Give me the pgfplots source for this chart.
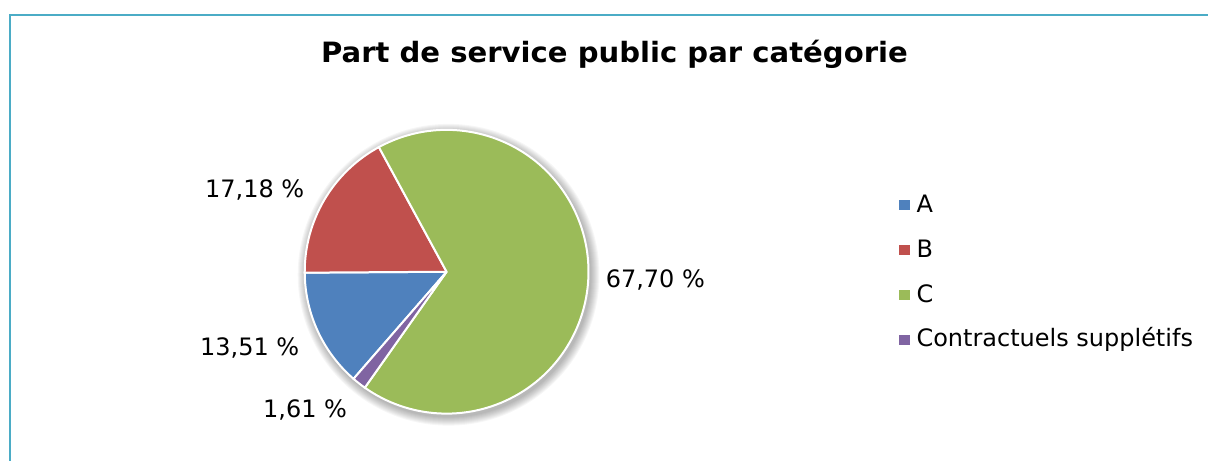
\documentclass[border=0pt]{standalone}
\usepackage{pgfplots}
\pgfplotsset{compat=1.18}
\usepackage{fontspec}
\setmainfont{DejaVu Sans}
\newfontfamily\titlefont[FakeStretch=1.04]{DejaVu Sans}
\definecolor{cA}{HTML}{4F81BD}
\definecolor{cB}{HTML}{C0504D}
\definecolor{cC}{HTML}{9BBB59}
\definecolor{cD}{HTML}{8064A2}
\definecolor{frameblue}{HTML}{4BACC6}
\begin{document}
\begin{tikzpicture}
% shares in percent: A, B, C, Contractuels supplétifs
\def\vA{13.51}\def\vB{17.18}\def\vC{67.70}\def\vD{1.61}
\def\first{-131}% angle where slice A starts, slices go clockwise
\pgfmathsetmacro\eA{\first-3.6*\vA}
\pgfmathsetmacro\eB{\eA-3.6*\vB}
\pgfmathsetmacro\eC{\eB-3.6*\vC}
\pgfmathsetmacro\eD{\eC-3.6*\vD}
\def\R{71pt}
\begin{axis}[
x=0.5pt, y=0.5pt,
xmin=0, xmax=1209, ymin=0, ymax=461,
hide axis, clip=false,
]
\path (axis cs:0,0) rectangle (axis cs:1209,461);
\draw[frameblue, line width=1.1pt] (axis cs:10,0) -- (axis cs:10,446) -- (axis cs:1209,446);

% soft shadow
\pgfplotsinvokeforeach{1,...,9}{
  \fill[black, opacity=0.035] (axis cs:449,186) circle[radius=71pt+#1*0.5pt];
}

% slices
\fill[cA, draw=white, line width=1pt] (axis cs:447,189) -- ++(\first:\R) arc[start angle=\first, end angle=\eA, radius=\R] -- cycle;
\fill[cB, draw=white, line width=1pt] (axis cs:447,189) -- ++(\eA:\R) arc[start angle=\eA, end angle=\eB, radius=\R] -- cycle;
\fill[cC, draw=white, line width=1pt] (axis cs:447,189) -- ++(\eB:\R) arc[start angle=\eB, end angle=\eC, radius=\R] -- cycle;
\fill[cD, draw=white, line width=1pt] (axis cs:447,189) -- ++(\eC:\R) arc[start angle=\eC, end angle=\eD, radius=\R] -- cycle;

% title
\node[font=\titlefont\bfseries\fontsize{14}{16}\selectfont, anchor=base] at (axis cs:615,398) {Part de service public par catégorie};

% data labels
\begin{scope}[every node/.style={font=\fontsize{12}{14}\selectfont, anchor=base west, inner sep=0pt}]
\node at (axis cs:205,263) {17,18 \%};
\node at (axis cs:200,105) {13,51 \%};
\node at (axis cs:263,43) {1,61 \%};
\node at (axis cs:606,173) {67,70 \%};

% legend
\fill[cA] (axis cs:900,251) rectangle (axis cs:911,261);
\fill[cB] (axis cs:900,206) rectangle (axis cs:911,216);
\fill[cC] (axis cs:900,161) rectangle (axis cs:911,171);
\fill[cD] (axis cs:900,116) rectangle (axis cs:911,126);
\node at (axis cs:917,248) {A};
\node at (axis cs:917,203) {B};
\node at (axis cs:917,158) {C};
\node at (axis cs:917,114) {Contractuels supplétifs};
\end{scope}
\end{axis}
\end{tikzpicture}
\end{document}
